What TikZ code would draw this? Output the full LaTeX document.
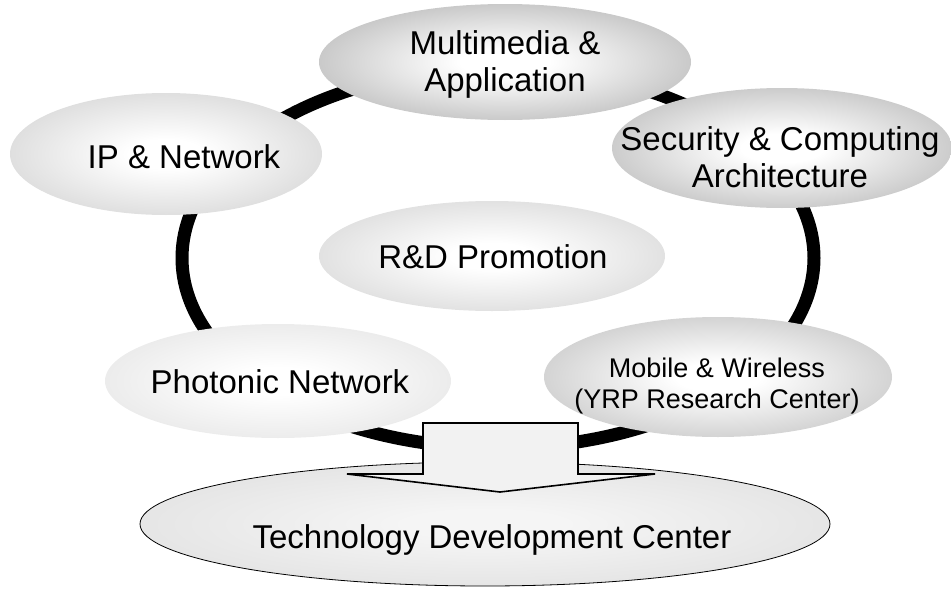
\documentclass[tikz,border=0pt]{standalone}
\usepackage{fontspec}
\setmainfont{Liberation Sans}
\usetikzlibrary{shapes.geometric}

\definecolor{mmrim}{gray}{0.58}
\definecolor{iprim}{gray}{0.75}
\definecolor{secrim}{gray}{0.60}
\definecolor{rdrim}{gray}{0.77}
\definecolor{phrim}{gray}{0.85}
\definecolor{mwrim}{gray}{0.66}
\definecolor{tdccore}{gray}{0.96}
\definecolor{tdcrim}{gray}{0.84}
\definecolor{arrowfill}{gray}{0.95}

\colorlet{ovalcore}{white}
\colorlet{ovalrim}{gray}
\pgfdeclareradialshading[ovalcore,ovalrim]{ovalshade}{\pgfpoint{0bp}{0bp}}{%
  color(0bp)=(ovalcore); color(6bp)=(ovalcore); color(44bp)=(ovalrim); color(50bp)=(ovalrim)}

\begin{document}
\begin{tikzpicture}[x=1pt,y=-1pt,
    rim/.code={\colorlet{ovalrim}{#1}},
    core/.code={\colorlet{ovalcore}{#1}},
    oval/.style={ellipse,inner sep=0pt,shade,shading=ovalshade},
    big/.style={font=\fontsize{33}{37}\selectfont,align=center},
    small/.style={font=\fontsize{27}{31}\selectfont,align=center}]
    \useasboundingbox (0,0) rectangle (951,589);

    % ring behind the groups
    \node [draw,ellipse,line width=13pt,minimum width=632pt,minimum height=380pt] (ring) at (498,258) {};

    % the groups
    \node [oval,rim=mmrim] (mm) at (505,62) [minimum width=372pt,minimum height=116pt] {};
    \node [big] (mmtxt) at (505,64) {Multimedia \&\\Application};
    \node [oval,rim=iprim] (ip) at (166,154) [minimum width=312pt,minimum height=122pt] {};
    \node [big] (iptxt) at (184,157) {IP \& Network};
    \node [oval,rim=secrim] (sec) at (782,148) [minimum width=340pt,minimum height=120pt] {};
    \node [big] (sectxt) at (780,157) {Security \& Computing\\Architecture};
    \node [oval,rim=rdrim] (rd) at (492,256) [minimum width=346pt,minimum height=110pt] {};
    \node [big] (rdtxt) at (493,257) {R\&D Promotion};
    \node [oval,rim=phrim] (ph) at (278,381) [minimum width=346pt,minimum height=114pt] {};
    \node [big] (phtxt) at (280,382) {Photonic Network};
    \node [oval,rim=mwrim] (mw) at (718,377) [minimum width=348pt,minimum height=120pt] {};
    \node [small] (mwtxt) at (717,386) {Mobile \& Wireless\\(YRP Research Center)};

    % result
    \node [oval,draw,line width=0.8pt,core=tdccore,rim=tdcrim] (tdc) at (485,524) [minimum width=690pt,minimum height=124pt] {};
    \node [big] (tdctxt) at (492,540) {Technology Development Center};

    % block arrow
    \draw [line width=1.6pt,fill=arrowfill,line join=miter] (423,423)--(578,423)--(578,474)--(655,474)--(500,492)--(347,474)--(423,474)--cycle;
\end{tikzpicture}
\end{document}
